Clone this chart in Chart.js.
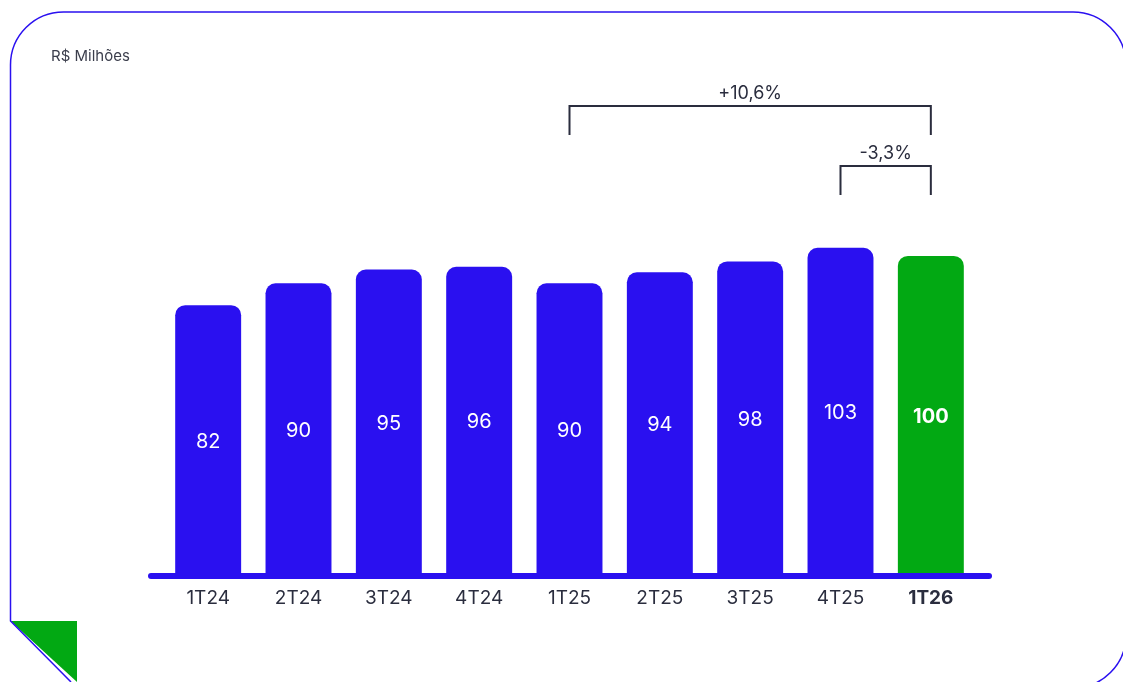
<!DOCTYPE html>
<html lang="pt-BR">
<head>
<meta charset="utf-8">
<title>Receita trimestral</title>
<script src="https://cdn.jsdelivr.net/npm/chart.js@4.4.1/dist/chart.umd.min.js"></script>
<style>
    html, body { margin: 0; padding: 0; background: #ffffff; }
    #wrap { width: 1123px; height: 682px; }
</style>
</head>
<body>
<div id="wrap"><canvas id="chart" width="1123" height="682"></canvas></div>
<script>
// data
const quarters = ['1T24', '2T24', '3T24', '4T24', '1T25', '2T25', '3T25', '4T25', '1T26'];
const values = [82, 90, 95, 96, 90, 94, 98, 103, 100];
const highlightIndex = 8;
const unitLabel = 'R$ Milhões';

// variation brackets (category index from -> to)
const bracketFrom = [4, 7];
const bracketTo = [8, 8];
const bracketLabels = ['+10,6%', '-3,3%'];

const BLUE = '#2a10f0';
const GREEN = '#02a913';
const INK = '#2a2d3e';
const FONT = 'Inter, "Open Sans", sans-serif';

const framePlugin = {
    id: 'frame',
    beforeDraw(chart) {
        const ctx = chart.ctx;
        const r = 53;
        const left = 10.5, top = 12, right = 1126, bottom = 688;
        ctx.save();
        // green corner triangle
        ctx.fillStyle = GREEN;
        ctx.beginPath();
        ctx.moveTo(left, 621);
        ctx.lineTo(77, 621);
        ctx.lineTo(77, 682);
        ctx.closePath();
        ctx.fill();
        // rounded outline with cut corner
        ctx.strokeStyle = BLUE;
        ctx.lineWidth = 1.5;
        ctx.beginPath();
        ctx.moveTo(71, 682);
        ctx.lineTo(left, 621);
        ctx.lineTo(left, top + r);
        ctx.arcTo(left, top, left + r, top, r);
        ctx.lineTo(right - r, top);
        ctx.arcTo(right, top, right, top + r, r);
        ctx.lineTo(right, bottom - r);
        ctx.arcTo(right, bottom, right - r, bottom, r);
        ctx.stroke();
        // unit label
        ctx.fillStyle = '#3b3e4c';
        ctx.font = '15px ' + FONT;
        ctx.textBaseline = 'middle';
        ctx.textAlign = 'left';
        ctx.fillText(unitLabel, 51, 56);
        ctx.restore();
    },
    afterDatasetsDraw(chart) {
        const ctx = chart.ctx;
        const area = chart.chartArea;
        const meta = chart.getDatasetMeta(0);
        ctx.save();
        // thick baseline
        ctx.strokeStyle = BLUE;
        ctx.lineWidth = 6;
        ctx.lineCap = 'round';
        ctx.beginPath();
        ctx.moveTo(area.left - 12, area.bottom);
        ctx.lineTo(area.right + 13, area.bottom);
        ctx.stroke();
        // values in the middle of each bar
        ctx.fillStyle = '#ffffff';
        ctx.textAlign = 'center';
        ctx.textBaseline = 'middle';
        meta.data.forEach((bar, i) => {
            ctx.font = (i === highlightIndex ? 'bold ' : '') + '20px ' + FONT;
            ctx.fillText(String(values[i]), bar.x, (bar.y + bar.base) / 2 + 1);
        });
        // brackets
        const levels = [[106, 135], [166, 195]];
        ctx.strokeStyle = INK;
        ctx.lineWidth = 2;
        ctx.lineCap = 'butt';
        ctx.fillStyle = INK;
        ctx.font = '18px ' + FONT;
        bracketFrom.forEach((from, k) => {
            const x1 = meta.data[from].x;
            const x2 = meta.data[bracketTo[k]].x;
            const [yTop, yLeg] = levels[k];
            ctx.beginPath();
            ctx.moveTo(x1, yLeg);
            ctx.lineTo(x1, yTop);
            ctx.lineTo(x2, yTop);
            ctx.lineTo(x2, yLeg);
            ctx.stroke();
            ctx.fillText(bracketLabels[k], (x1 + x2) / 2, yTop - 12);
        });
        ctx.restore();
    }
};

new Chart(document.getElementById('chart').getContext('2d'), {
    type: 'bar',
    data: {
        labels: quarters,
        datasets: [{
            data: values,
            base: -17,
            backgroundColor: ctx => ctx.dataIndex === highlightIndex ? GREEN : BLUE,
            borderRadius: { topLeft: 10, topRight: 10, bottomLeft: 0, bottomRight: 0 },
            borderSkipped: false,
            barPercentage: 0.73,
            categoryPercentage: 1
        }]
    },
    options: {
        responsive: false,
        animation: false,
        layout: { padding: { left: 163, right: 147, top: 100, bottom: 66 } },
        plugins: {
            legend: { display: false },
            tooltip: { enabled: false }
        },
        scales: {
            x: {
                grid: { display: false, drawTicks: false },
                border: { display: false },
                ticks: {
                    padding: 11,
                    color: INK,
                    font: ctx => ({
                        family: FONT,
                        size: 19,
                        weight: ctx.index === highlightIndex ? 'bold' : 'normal'
                    })
                },
                afterFit: scale => { scale.height = 40; }
            },
            y: {
                display: false,
                min: -17,
                max: 157
            }
        }
    },
    plugins: [framePlugin]
});
</script>
</body>
</html>
